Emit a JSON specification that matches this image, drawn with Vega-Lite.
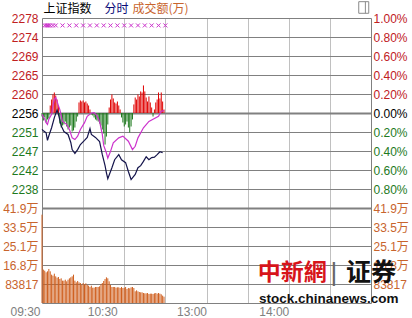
{
  "$schema": "https://vega.github.io/schema/vega-lite/v6.json",
  "autosize": "none",
  "width": 329,
  "height": 285,
  "padding": {"left": 42, "top": 18, "right": 41, "bottom": 15},
  "background": "#ffffff",
  "config": {"view": {"stroke": null}},
  "datasets": {
    "vol": [
      {"t":0,"v":389700},{"t":1,"v":147100},{"t":2,"v":142600},{"t":3,"v":135300},{"t":4,"v":139700},{"t":5,"v":150000},{"t":6,"v":139700},{"t":7,"v":125000},{"t":8,"v":120600},{"t":9,"v":129400},
      {"t":10,"v":117600},{"t":11,"v":111800},{"t":12,"v":114700},{"t":13,"v":105900},{"t":14,"v":108800},{"t":15,"v":98500},{"t":16,"v":98500},{"t":17,"v":102900},{"t":18,"v":95600},{"t":19,"v":102900},
      {"t":20,"v":108800},{"t":21,"v":113200},{"t":22,"v":117600},{"t":23,"v":125000},{"t":24,"v":98500},{"t":25,"v":91200},{"t":26,"v":97100},{"t":27,"v":91200},{"t":28,"v":88200},{"t":29,"v":80900},
      {"t":30,"v":88200},{"t":31,"v":82400},{"t":32,"v":86800},{"t":33,"v":79400},{"t":34,"v":76500},{"t":35,"v":70600},{"t":36,"v":76500},{"t":37,"v":67600},{"t":38,"v":67600},{"t":39,"v":70600},
      {"t":40,"v":70600},{"t":41,"v":70600},{"t":42,"v":73500},{"t":43,"v":82400},{"t":44,"v":88200},{"t":45,"v":97100},{"t":46,"v":105900},{"t":47,"v":113200},{"t":48,"v":108800},{"t":49,"v":95600},
      {"t":50,"v":79400},{"t":51,"v":70600},{"t":52,"v":70600},{"t":53,"v":70600},{"t":54,"v":67600},{"t":55,"v":69100},{"t":56,"v":69100},{"t":57,"v":66200},{"t":58,"v":70600},{"t":59,"v":66200},
      {"t":60,"v":67600},{"t":61,"v":70600},{"t":62,"v":61800},{"t":63,"v":66200},{"t":64,"v":64700},{"t":65,"v":69100},{"t":66,"v":70600},{"t":67,"v":66200},{"t":68,"v":51500},{"t":69,"v":55900},
      {"t":70,"v":51500},{"t":71,"v":48500},{"t":72,"v":47100},{"t":73,"v":47100},{"t":74,"v":44100},{"t":75,"v":42600},{"t":76,"v":42600},{"t":77,"v":44100},{"t":78,"v":39700},{"t":79,"v":41200},
      {"t":80,"v":41200},{"t":81,"v":39700},{"t":82,"v":42600},{"t":83,"v":44100},{"t":84,"v":41200},{"t":85,"v":44100},{"t":86,"v":41200},{"t":87,"v":38200},{"t":88,"v":32400},{"t":89,"v":27900}
    ],
    "lead": [
      {"t":0,"s":-0.37},{"t":1,"s":-0.79},{"t":2,"s":-0.47},{"t":3,"s":-1.0},{"t":4,"s":-0.68},{"t":5,"s":-0.58},{"t":6,"s":0.79},{"t":7,"s":1.42},{"t":8,"s":1.95},{"t":9,"s":2.16},
      {"t":10,"s":1.84},{"t":11,"s":1.42},{"t":12,"s":0.79},{"t":13,"s":-1.11},{"t":14,"s":-1.53},{"t":15,"s":-1.32},{"t":16,"s":-1.21},{"t":17,"s":-0.9},{"t":18,"s":-1.42},{"t":19,"s":-1.74},
      {"t":20,"s":-1.53},{"t":21,"s":-1.32},{"t":22,"s":-1.95},{"t":23,"s":-1.84},{"t":24,"s":-1.53},{"t":25,"s":-0.9},{"t":26,"s":-0.37},{"t":27,"s":1.11},{"t":28,"s":1.32},{"t":29,"s":1.21},
      {"t":30,"s":1.32},{"t":31,"s":1.11},{"t":32,"s":1.21},{"t":33,"s":1.0},{"t":34,"s":0.79},{"t":35,"s":0.37},{"t":36,"s":-0.16},{"t":37,"s":-0.26},{"t":38,"s":-0.47},{"t":39,"s":-0.68},
      {"t":40,"s":-0.79},{"t":41,"s":-0.9},{"t":42,"s":-1.11},{"t":43,"s":-1.32},{"t":44,"s":-1.74},{"t":45,"s":-2.16},{"t":46,"s":-3.32},{"t":47,"s":-2.48},{"t":48,"s":-1.21},{"t":49,"s":0.58},
      {"t":50,"s":1.42},{"t":51,"s":1.95},{"t":52,"s":1.53},{"t":53,"s":1.11},{"t":54,"s":1.0},{"t":55,"s":1.21},{"t":56,"s":0.79},{"t":57,"s":0.37},{"t":58,"s":-0.47},{"t":59,"s":-1.0},
      {"t":60,"s":-1.42},{"t":61,"s":-1.21},{"t":62,"s":-0.9},{"t":63,"s":-1.53},{"t":64,"s":-2.05},{"t":65,"s":-1.42},{"t":66,"s":-0.68},{"t":67,"s":0.9},{"t":68,"s":1.63},{"t":69,"s":1.42},
      {"t":70,"s":1.95},{"t":71,"s":1.74},{"t":72,"s":2.27},{"t":73,"s":2.16},{"t":74,"s":2.9},{"t":75,"s":2.27},{"t":76,"s":1.63},{"t":77,"s":1.21},{"t":78,"s":1.74},{"t":79,"s":1.11},
      {"t":80,"s":0.58},{"t":81,"s":-0.37},{"t":82,"s":0.37},{"t":83,"s":1.11},{"t":84,"s":1.42},{"t":85,"s":2.16},{"t":86,"s":1.53},{"t":87,"s":2.16},{"t":88,"s":1.21},{"t":89,"s":0.37}
    ],
    "price": [
      {"t":0,"p":2252.4},{"t":1,"p":2252.1},{"t":3,"p":2251.6},{"t":4,"p":2249.8},{"t":5,"p":2250.9},{"t":7,"p":2252.8},{"t":9,"p":2255.2},{"t":11,"p":2257.0},{"t":12,"p":2256.0},{"t":14,"p":2253.3},
      {"t":16,"p":2251.9},{"t":19,"p":2251.2},{"t":21,"p":2249.3},{"t":22,"p":2247.6},{"t":24,"p":2246.7},{"t":26,"p":2247.6},{"t":28,"p":2248.8},{"t":31,"p":2249.8},{"t":33,"p":2250.5},{"t":35,"p":2252.6},
      {"t":36,"p":2251.2},{"t":39,"p":2250.5},{"t":42,"p":2249.5},{"t":44,"p":2246.4},{"t":46,"p":2243.8},{"t":47,"p":2242.1},{"t":48,"p":2240.7},{"t":51,"p":2243.3},{"t":53,"p":2245.2},{"t":56,"p":2246.4},
      {"t":58,"p":2245.2},{"t":61,"p":2244.5},{"t":63,"p":2242.4},{"t":65,"p":2240.5},{"t":68,"p":2241.7},{"t":70,"p":2243.3},{"t":72,"p":2243.8},{"t":74,"p":2244.8},{"t":76,"p":2245.9},{"t":78,"p":2245.2},
      {"t":80,"p":2245.7},{"t":82,"p":2245.8},{"t":84,"p":2246.4},{"t":86,"p":2247.1},{"t":88,"p":2246.9}
    ],
    "avg": [
      {"t":0,"p":2256.0},{"t":2,"p":2254.8},{"t":3,"p":2254.0},{"t":4,"p":2253.6},{"t":5,"p":2254.8},{"t":7,"p":2256.0},{"t":8,"p":2258.1},{"t":9,"p":2259.5},{"t":10,"p":2260.0},{"t":11,"p":2259.0},
      {"t":13,"p":2257.1},{"t":15,"p":2254.3},{"t":18,"p":2253.6},{"t":20,"p":2252.4},{"t":22,"p":2250.4},{"t":24,"p":2250.0},{"t":26,"p":2250.8},{"t":28,"p":2252.4},{"t":31,"p":2254.0},{"t":33,"p":2255.5},
      {"t":36,"p":2256.3},{"t":38,"p":2256.4},{"t":40,"p":2255.7},{"t":42,"p":2254.3},{"t":44,"p":2251.2},{"t":45,"p":2248.6},{"t":47,"p":2246.8},{"t":48,"p":2245.6},{"t":50,"p":2247.2},{"t":52,"p":2249.2},
      {"t":56,"p":2250.4},{"t":59,"p":2250.8},{"t":63,"p":2249.6},{"t":66,"p":2247.6},{"t":68,"p":2248.4},{"t":70,"p":2250.4},{"t":74,"p":2252.8},{"t":78,"p":2254.3},{"t":81,"p":2254.8},{"t":85,"p":2255.5},
      {"t":87,"p":2256.7},{"t":89,"p":2256.9}
    ],
    "xm": [
      {"t":2,"p":2277.1},{"t":3,"p":2277.1},{"t":4,"p":2277.1},{"t":5,"p":2277.1},{"t":6,"p":2277.1},{"t":8,"p":2277.1},{"t":10,"p":2277.1},
      {"t":15,"p":2277.1},{"t":20,"p":2277.1},{"t":25,"p":2277.1},{"t":30,"p":2277.1},{"t":35,"p":2277.1},{"t":40,"p":2277.1},{"t":45,"p":2277.1},{"t":50,"p":2277.1},
      {"t":55,"p":2277.1},{"t":60,"p":2277.1},{"t":65,"p":2277.1},{"t":70,"p":2277.1},{"t":75,"p":2277.1},{"t":80,"p":2277.1},{"t":85,"p":2277.1},{"t":90,"p":2277.1}
    ]
  },
  "encoding": {
    "x": {
      "field": "t", "type": "quantitative",
      "scale": {"domain": [0, 240], "nice": false, "zero": false},
      "axis": {
        "values": [0, 30, 60, 90, 120, 150, 180, 210, 240],
        "grid": true, "gridColor": "#808080",
        "gridDash": {"condition": {"test": "datum.value == 0 || datum.value == 240", "value": []}, "value": [1, 1]},
        "ticks": false, "domain": false,
        "labelExpr": "datum.value == 0 ? '09:30' : datum.value == 60 ? '10:30' : datum.value == 120 ? '13:00' : datum.value == 180 ? '14:00' : ''",
        "labelAlign": "right", "labelFont": "Liberation Sans", "labelFontSize": 12, "labelColor": "#808080",
        "labelPadding": 3, "labelFlush": false, "labelOverlap": false, "labelBound": false,
        "labelOffset": {"condition": [{"test": "datum.value == 60", "value": -7}, {"test": "datum.value == 0", "value": -2}], "value": 0},
        "title": "分时", "titleX": 62, "titleY": -295, "titleAlign": "left", "titleBaseline": "middle", "titleAngle": 0,
        "titleColor": "#0a0a78", "titleFont": "Noto Sans CJK SC", "titleFontSize": 12, "titleFontWeight": "normal"
      }
    }
  },
  "resolve": {"scale": {"y": "independent"}},
  "layer": [
    {
      "data": {"name": "vol"},
      "mark": {"type": "rule", "strokeWidth": 1, "color": "#cf5f1e"},
      "encoding": {
        "y": {"field": "v", "type": "quantitative", "scale": {"domain": [0, 1257255], "nice": false, "zero": false}, "axis": null},
        "y2": {"datum": 0}
      }
    },
    {
      "data": {"name": "lead"},
      "mark": {"type": "rule", "strokeWidth": 1},
      "encoding": {
        "y": {"field": "s", "type": "quantitative", "scale": {"domain": [-20, 10], "nice": false, "zero": false}, "axis": null},
        "y2": {"datum": 0},
        "color": {"condition": {"test": "datum.s > 0", "value": "#e00000"}, "value": "#1e7a1e"}
      }
    },
    {
      "data": {"name": "avg"},
      "mark": {"type": "line", "strokeWidth": 1.2, "color": "#cc33cc"},
      "encoding": {
        "y": {"field": "p", "type": "quantitative", "scale": {"domain": [2211.174, 2278.863], "nice": false, "zero": false}, "axis": null}
      }
    },
    {
      "data": {"name": "price"},
      "mark": {"type": "line", "strokeWidth": 1.2, "color": "#14144b"},
      "encoding": {
        "y": {
          "field": "p", "type": "quantitative",
          "scale": {"domain": [2211.174, 2278.863], "nice": false, "zero": false},
          "axis": {
            "orient": "left",
            "values": [2278.863, 2274.3504, 2269.8378, 2265.3252, 2260.8126, 2256.3, 2251.7874, 2247.2748, 2242.7622, 2238.2496, 2233.737, 2229.2244, 2224.7118, 2220.1992, 2215.6866, 2211.174],
            "labelExpr": "datum.value > 2236 ? format(floor(datum.value), 'd') : datum.value > 2231 ? '41.9万' : datum.value > 2227 ? '33.5万' : datum.value > 2222 ? '25.1万' : datum.value > 2218 ? '16.8万' : datum.value > 2213 ? '83817' : ''",
            "labelColor": {"condition": [{"test": "datum.value > 2257", "value": "#c0201e"}, {"test": "datum.value > 2255", "value": "#000000"}, {"test": "datum.value > 2236", "value": "#1e7a1e"}], "value": "#c8642d"},
            "labelFont": "Liberation Sans, Noto Sans CJK SC", "labelFontSize": 12, "labelPadding": 4,
            "labelFlush": false, "labelOverlap": false, "labelBound": false,
            "ticks": false, "domain": false,
            "grid": true, "gridColor": "#808080",
            "gridWidth": {"condition": {"test": "abs(datum.value - 2256.3) < 0.01 || abs(datum.value - 2233.737) < 0.01", "value": 2}, "value": 1},
            "title": "上证指数", "titleAngle": 0, "titleX": 1, "titleY": -10, "titleAlign": "left", "titleBaseline": "middle",
            "titleFont": "Noto Sans CJK SC", "titleFontSize": 12, "titleFontWeight": "normal", "titleColor": "#000000"
          }
        }
      }
    },
    {
      "data": {"name": "xm"},
      "mark": {"type": "point", "shape": "M-1,-1L1,1M1,-1L-1,1", "size": 16, "filled": false, "strokeWidth": 1, "color": "#cc33cc", "opacity": 1},
      "encoding": {
        "y": {
          "field": "p", "type": "quantitative",
          "scale": {"domain": [2211.174, 2278.863], "nice": false, "zero": false},
          "axis": {
            "orient": "right",
            "values": [2278.863, 2274.3504, 2269.8378, 2265.3252, 2260.8126, 2256.3, 2251.7874, 2247.2748, 2242.7622, 2238.2496, 2233.737, 2229.2244, 2224.7118, 2220.1992, 2215.6866],
            "labelExpr": "datum.value > 2236 ? format(abs(datum.value / 2256.3 - 1) * 100, '.2f') + '%' : datum.value > 2231 ? '41.9万' : datum.value > 2227 ? '33.5万' : datum.value > 2222 ? '25.1万' : datum.value > 2218 ? '16.8万' : datum.value > 2213 ? '83817' : ''",
            "labelColor": {"condition": [{"test": "datum.value > 2257", "value": "#c0201e"}, {"test": "datum.value > 2255", "value": "#000000"}, {"test": "datum.value > 2236", "value": "#1e7a1e"}], "value": "#c8642d"},
            "labelFont": "Liberation Sans, Noto Sans CJK SC", "labelFontSize": 12, "labelPadding": 2,
            "labelFlush": false, "labelOverlap": false, "labelBound": false,
            "ticks": false, "domain": false, "grid": false,
            "title": "成交额(万)", "titleAngle": 0, "titleX": -239, "titleY": -10, "titleAlign": "left", "titleBaseline": "middle",
            "titleFont": "Noto Sans CJK SC", "titleFontSize": 12, "titleFontWeight": "normal", "titleColor": "#c8642d"
          }
        }
      }
    },
    {
      "data": {"values": [{"t": 234.7, "p": 2281.36}]},
      "mark": {"type": "point", "shape": "M-1,-1.16H1V1.16H-1ZM0.33,-1.16V1.16", "size": 100, "filled": false, "strokeWidth": 1, "color": "#8a8a8a", "opacity": 1, "clip": false},
      "encoding": {
        "y": {"field": "p", "type": "quantitative", "scale": {"domain": [2211.174, 2278.863], "nice": false, "zero": false}, "axis": null}
      }
    },
    {
      "data": {"values": [{"t": 157.4, "v": 134500, "label": "中新網"}]},
      "mark": {"type": "text", "align": "left", "baseline": "middle", "font": "Noto Sans CJK SC", "fontSize": 23, "fontWeight": "bold", "color": "#d7141a"},
      "encoding": {
        "y": {"field": "v", "type": "quantitative", "scale": {"domain": [0, 1257255], "nice": false, "zero": false}, "axis": null},
        "text": {"field": "label"}
      }
    },
    {
      "data": {"values": [{"t": 213, "v": 134500, "label": "|"}]},
      "mark": {"type": "text", "align": "center", "baseline": "middle", "font": "Liberation Sans", "fontSize": 26, "color": "#666666"},
      "encoding": {
        "y": {"field": "v", "type": "quantitative", "scale": {"domain": [0, 1257255], "nice": false, "zero": false}, "axis": null},
        "text": {"field": "label"}
      }
    },
    {
      "data": {"values": [{"t": 221.8, "v": 130700, "label": "证券"}]},
      "mark": {"type": "text", "align": "left", "baseline": "middle", "font": "Noto Sans CJK SC", "fontSize": 25, "fontWeight": "bold", "color": "#111111"},
      "encoding": {
        "y": {"field": "v", "type": "quantitative", "scale": {"domain": [0, 1257255], "nice": false, "zero": false}, "axis": null},
        "text": {"field": "label"}
      }
    },
    {
      "data": {"values": [{"t": 158.3, "v": 1000, "label": "stock.chinanews.com"}]},
      "mark": {"type": "text", "align": "left", "baseline": "alphabetic", "font": "Liberation Sans", "fontSize": 13.5, "fontWeight": "bold", "color": "#111111"},
      "encoding": {
        "y": {"field": "v", "type": "quantitative", "scale": {"domain": [0, 1257255], "nice": false, "zero": false}, "axis": null},
        "text": {"field": "label"}
      }
    }
  ]
}
